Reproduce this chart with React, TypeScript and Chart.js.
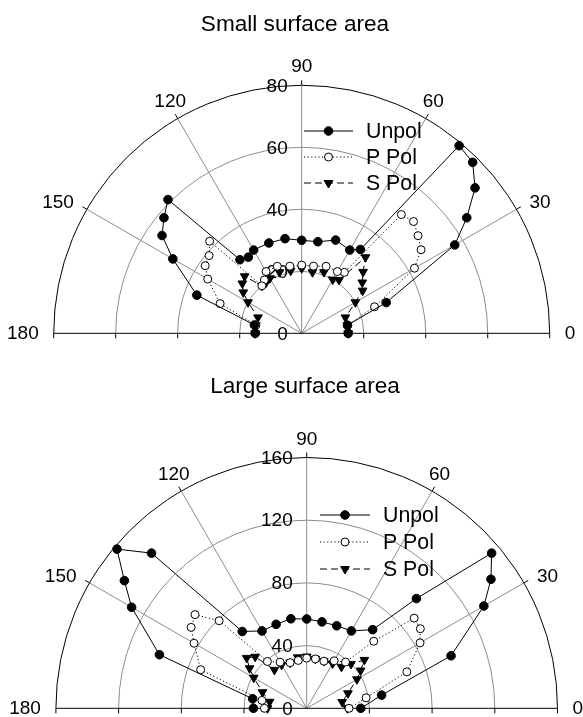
import React, { useEffect, useRef } from "react";
import { Chart, registerables } from "chart.js";

Chart.register(...registerables);

const FONT = '"Liberation Sans", Arial, Helvetica, sans-serif';

// Small surface area (top plot)
const smallAngles = [0, 10, 20, 30, 35, 40, 45, 50, 55, 60, 70, 80, 90, 100, 110, 120, 125, 130, 135, 140, 145, 150, 160, 170, 180];
const smallUnpol = [15, 15, 29, 57, 65, 73, 78, 79, 33, 31, 32, 30, 30, 31, 31, 31, 30, 31, 61, 58, 55, 48, 36, 15.5, 15];
const smallPPol = [15, 15, 25, 42, 47, 49, 51, 50, 24, 23, 23, 22, 22, 22, 23, 23, 21, 20, 42, 39, 38, 35, 28, 15, 15];
const smallSPol = [15, 15, 15, 20, 24, 25.5, 28, 32, 21, 20, 21, 20, 21, 20.5, 21, 20.5, 20, 20, 26, 25, 23, 20, 15, 15, 15];
const smallRings = [20, 40, 60, 80];

// Large surface area (bottom plot)
const largeAngles = [0, 10, 20, 30, 35, 40, 45, 50, 60, 70, 80, 90, 100, 110, 120, 130, 135, 140, 145, 150, 160, 170, 180];
const largeUnpol = [34.5, 48.5, 98, 130.5, 143.5, 154, 99, 65.5, 57, 56, 56, 57, 58, 57, 57, 64, 140, 158, 142, 129, 100, 35, 34];
const largePPol = [27, 38.5, 68, 83.5, 88.5, 89.5, 60.5, 38.5, 35, 32, 32, 32, 31, 31, 34, 39, 79, 93, 90, 83, 72, 29, 27];
const largeSPol = [26, 23, 28, 37, 42, 48, 40, 34.5, 33, 32, 32, 33, 33, 31, 32, 32, 46.5, 50, 44.5, 39, 30, 24, 25];
const largeRings = [40, 80, 120, 160];

const spokeAngles = [30, 60, 90, 120, 150];
const angleLabels = [0, 30, 60, 90, 120, 150, 180];
const seriesNames = ["Unpol", "P Pol", "S Pol"];

const GRID = "#8c8c8c";
const rad = (a: number) => (a * Math.PI) / 180;

type Pad = { left: number; right: number; top: number; bottom: number };
type LegendPos = { x0: number; x1: number; textX: number; y: number; gap: number };

type PanelProps = {
  title: string;
  titleX: number;
  titleY: number;
  angles: number[];
  series: number[][];
  rings: number[];
  height: number;
  padding: Pad;
  legend: LegendPos;
};

function drawMarker(ctx: CanvasRenderingContext2D, kind: number, x: number, y: number) {
  ctx.save();
  ctx.setLineDash([]);
  ctx.lineWidth = 1;
  ctx.strokeStyle = "#000";
  ctx.beginPath();
  if (kind === 2) {
    const r = 5;
    ctx.moveTo(x, y + r);
    ctx.lineTo(x - r * 0.866, y - r * 0.5);
    ctx.lineTo(x + r * 0.866, y - r * 0.5);
    ctx.closePath();
    ctx.fillStyle = "#000";
  } else {
    ctx.arc(x, y, kind === 0 ? 4.3 : 4, 0, Math.PI * 2);
    ctx.fillStyle = kind === 0 ? "#000" : "#fff";
  }
  ctx.fill();
  ctx.stroke();
  ctx.restore();
}

const dashes = [[], [1.2, 2.4], [7, 4]];

function PolarPanel(props: PanelProps) {
  const canvasRef = useRef<HTMLCanvasElement | null>(null);

  useEffect(() => {
    if (!canvasRef.current) return;
    const { angles, series, rings, title, titleX, titleY, legend, padding } = props;
    const max = rings[rings.length - 1];

    const points = (vals: number[]) =>
      angles.map((a, i) => ({ x: vals[i] * Math.cos(rad(a)), y: vals[i] * Math.sin(rad(a)) }));

    const polarGrid = {
      id: "polarGrid",
      beforeDatasetsDraw(chart: any) {
        const ctx: CanvasRenderingContext2D = chart.ctx;
        const xs = chart.scales.x;
        const ys = chart.scales.y;
        const cx = xs.getPixelForValue(0);
        const cy = ys.getPixelForValue(0);
        const rx = (v: number) => xs.getPixelForValue(v) - cx;
        const ry = (v: number) => cy - ys.getPixelForValue(v);
        ctx.save();
        ctx.lineWidth = 1;

        // rings
        rings.forEach((r, i) => {
          ctx.strokeStyle = i === rings.length - 1 ? "#000" : GRID;
          ctx.beginPath();
          ctx.ellipse(cx, cy, rx(r), ry(r), 0, Math.PI, Math.PI * 2);
          ctx.stroke();
        });

        // spokes, with a short black tick outside the outer ring
        spokeAngles.forEach((a) => {
          const c = Math.cos(rad(a));
          const s = Math.sin(rad(a));
          ctx.strokeStyle = GRID;
          ctx.beginPath();
          ctx.moveTo(cx, cy);
          ctx.lineTo(cx + rx(max) * c, cy - ry(max) * s);
          ctx.stroke();
          ctx.strokeStyle = "#000";
          ctx.beginPath();
          ctx.moveTo(cx + rx(max) * c, cy - ry(max) * s);
          ctx.lineTo(cx + (rx(max) + 5) * c, cy - (ry(max) + 5) * s);
          ctx.stroke();
        });

        // baseline with ticks
        ctx.strokeStyle = "#000";
        ctx.beginPath();
        ctx.moveTo(cx - rx(max), cy);
        ctx.lineTo(cx + rx(max), cy);
        rings.forEach((r) => {
          [-1, 1].forEach((s) => {
            ctx.moveTo(cx + s * rx(r), cy);
            ctx.lineTo(cx + s * rx(r), cy + 5);
          });
        });
        ctx.stroke();

        // angle labels
        ctx.fillStyle = "#000";
        ctx.font = `19px ${FONT}`;
        angleLabels.forEach((a) => {
          const c = Math.cos(rad(a));
          const s = Math.sin(rad(a));
          const px = cx + (rx(max) + 15) * c;
          const py = cy - (ry(max) + 13) * s;
          if (Math.abs(c) > 0.7) {
            ctx.textAlign = c > 0 ? "left" : "right";
            ctx.textBaseline = "middle";
          } else {
            ctx.textAlign = "center";
            ctx.textBaseline = "alphabetic";
          }
          ctx.fillText(String(a), px, py);
        });

        // radial labels
        ctx.textAlign = "right";
        ctx.textBaseline = "middle";
        [0, ...rings].forEach((r) => {
          ctx.fillText(String(r), cx - 14, cy - ry(r) + 1);
        });

        // title
        ctx.textAlign = "center";
        ctx.font = `22.6px ${FONT}`;
        ctx.fillText(title, titleX, titleY);
        ctx.restore();
      },
      afterDatasetsDraw(chart: any) {
        const ctx: CanvasRenderingContext2D = chart.ctx;
        ctx.save();
        ctx.font = `21.3px ${FONT}`;
        ctx.textAlign = "left";
        ctx.textBaseline = "middle";
        ctx.fillStyle = "#000";
        seriesNames.forEach((name, i) => {
          const y = legend.y + i * legend.gap;
          ctx.strokeStyle = "#000";
          ctx.lineWidth = 1;
          ctx.setLineDash(dashes[i]);
          ctx.beginPath();
          ctx.moveTo(legend.x0, y);
          ctx.lineTo(legend.x1, y);
          ctx.stroke();
          drawMarker(ctx, i, (legend.x0 + legend.x1) / 2, y);
          ctx.fillText(name, legend.textX, y + 1);
        });
        ctx.restore();
      },
    };

    const base = {
      showLine: true,
      clip: false as const,
      borderColor: "#000",
      borderWidth: 1,
      pointBorderColor: "#000",
      pointBorderWidth: 1,
      pointHoverRadius: 0,
    };

    const chart = new Chart(canvasRef.current, {
      type: "scatter",
      data: {
        datasets: [
          {
            ...base,
            label: seriesNames[0],
            data: points(series[0]),
            pointStyle: "circle",
            pointRadius: 4.3,
            pointBackgroundColor: "#000",
            backgroundColor: "#000",
          },
          {
            ...base,
            label: seriesNames[1],
            data: points(series[1]),
            pointStyle: "circle",
            pointRadius: 4,
            pointBackgroundColor: "#fff",
            backgroundColor: "#fff",
            borderDash: dashes[1],
          },
          {
            ...base,
            label: seriesNames[2],
            data: points(series[2]),
            pointStyle: "triangle",
            rotation: 180,
            pointRadius: 5,
            pointBackgroundColor: "#000",
            backgroundColor: "#000",
            borderDash: dashes[2],
          },
        ],
      },
      options: {
        animation: false,
        responsive: true,
        maintainAspectRatio: false,
        events: [],
        layout: { padding },
        plugins: {
          legend: { display: false },
          title: { display: false },
          tooltip: { enabled: false },
        },
        scales: {
          x: { type: "linear", min: -max, max: max, display: false },
          y: { type: "linear", min: 0, max: max, display: false },
        },
      },
      plugins: [polarGrid],
    } as any);

    return () => chart.destroy();
  }, [props]);

  return (
    <div style={{ position: "relative", width: 583, height: props.height }}>
      <canvas ref={canvasRef}></canvas>
    </div>
  );
}

const topPanel: PanelProps = {
  title: "Small surface area",
  titleX: 295,
  titleY: 25,
  angles: smallAngles,
  series: [smallUnpol, smallPPol, smallSPol],
  rings: smallRings,
  height: 360,
  padding: { left: 53.7, right: 33.3, top: 85.3, bottom: 26.7 },
  legend: { x0: 304, x1: 353, textX: 366, y: 131, gap: 26 },
};

const bottomPanel: PanelProps = {
  title: "Large surface area",
  titleX: 305,
  titleY: 27,
  angles: largeAngles,
  series: [largeUnpol, largePPol, largeSPol],
  rings: largeRings,
  height: 357,
  padding: { left: 55.9, right: 25.5, top: 97.5, bottom: 8.7 },
  legend: { x0: 320, x1: 370, textX: 383, y: 155, gap: 27 },
};

export default function App() {
  return (
    <div style={{ position: "absolute", left: 0, top: 0, width: 583, height: 717, background: "#fff" }}>
      <PolarPanel {...topPanel} />
      <PolarPanel {...bottomPanel} />
    </div>
  );
}
